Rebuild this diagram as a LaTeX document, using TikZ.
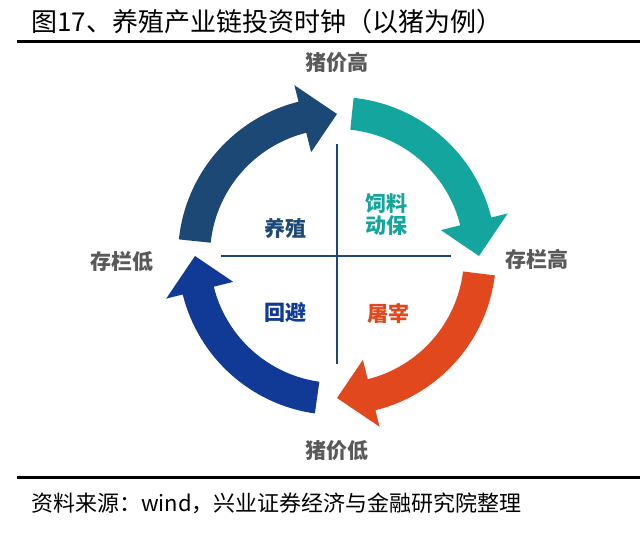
\documentclass[tikz,border=0pt]{standalone}
\usepackage{fontspec}
\setmainfont{Noto Sans CJK SC}
\usetikzlibrary{calc, positioning}
\definecolor{navyarrow}{RGB}{27,72,117}
\definecolor{tealarrow}{RGB}{20,166,158}
\definecolor{orangearrow}{RGB}{226,72,30}
\definecolor{bluearrow}{RGB}{16,58,150}
\definecolor{labelgray}{RGB}{89,89,89}

% curved clock arrow: #1 start angle, #2 head base angle, #3 tip angle, #4 colour
\newcommand{\clockarrow}[4]{%
  \fill[#4] ($(ctr)+(#1:159pt)$) arc[start angle=#1, end angle=#2, radius=159pt]
    -- ($(ctr)+(#2:176pt)$) -- ($(ctr)+(#3:142pt)$) -- ($(ctr)+(#2:107pt)$)
    -- ($(ctr)+(#2:127pt)$) arc[start angle=#2, end angle=#1, radius=127pt] -- cycle;}

\begin{document}
\begin{tikzpicture}[
    x=1pt, y=1pt,
    % text styles
    axislabel/.style={
        font=\fontsize{21}{24}\selectfont\bfseries, text=labelgray,
        inner sep=0pt
    },
    quadlabel/.style={
        font=\fontsize{21}{24}\selectfont\bfseries,
        align=center, inner sep=0pt
    },
    rule/.style={
        line width=3pt, color=black
    },
    axis/.style={
        line width=2.5pt, color=navyarrow
    },
]
\useasboundingbox (0,0) rectangle (640,534);

% ===== TITLE =====
\node[anchor=west, inner sep=0pt, font=\fontsize{26}{30}\selectfont] (title) at (31,512) {图17、养殖产业链投资时钟（以猪为例）};
\coordinate (titleruleL) at (17,492);
\coordinate (titleruleR) at (640,492);
\draw[rule] (titleruleL) -- (titleruleR);

% ===== CROSS =====
\coordinate (ctr) at (337,278);
\coordinate (axL) at ($(ctr)+(-116,0)$);
\coordinate (axR) at ($(ctr)+(114,0)$);
\coordinate (axT) at ($(ctr)+(0,112)$);
\coordinate (axB) at ($(ctr)+(0,-108)$);
\draw[axis] (axL) -- (axR);
\draw[axis] (axT) -- (axB);

% ===== ARROWS =====
\clockarrow{174}{104}{90}{navyarrow}
\clockarrow{84}{14}{0}{tealarrow}
\clockarrow{-7}{-76}{-90}{orangearrow}
\clockarrow{-98}{-166}{-180}{bluearrow}

% ===== AXIS LABELS =====
\node[axislabel] (pricehigh) at (337,471) {猪价高};
\node[axislabel] (stockhigh) at (537,275) {存栏高};
\node[axislabel] (pricelow) at (337,83) {猪价低};
\node[axislabel] (stocklow) at (122,272) {存栏低};

% ===== QUADRANT LABELS =====
\node[quadlabel, text=navyarrow] (breed) at (285,306) {养殖};
\node[quadlabel, text=tealarrow] (feed) at (386,319) {饲料\\[-2pt]动保};
\node[quadlabel, text=bluearrow] (avoid) at (285,221) {回避};
\node[quadlabel, text=orangearrow] (slaughter) at (388,221) {屠宰};

% ===== SOURCE =====
\coordinate (footruleL) at (17,56);
\coordinate (footruleR) at (640,56);
\draw[rule] (footruleL) -- (footruleR);
\node[anchor=west, inner sep=0pt, font=\fontsize{22}{26}\selectfont] (source) at (31,31) {资料来源：wind，兴业证券经济与金融研究院整理};

\end{tikzpicture}
\end{document}
